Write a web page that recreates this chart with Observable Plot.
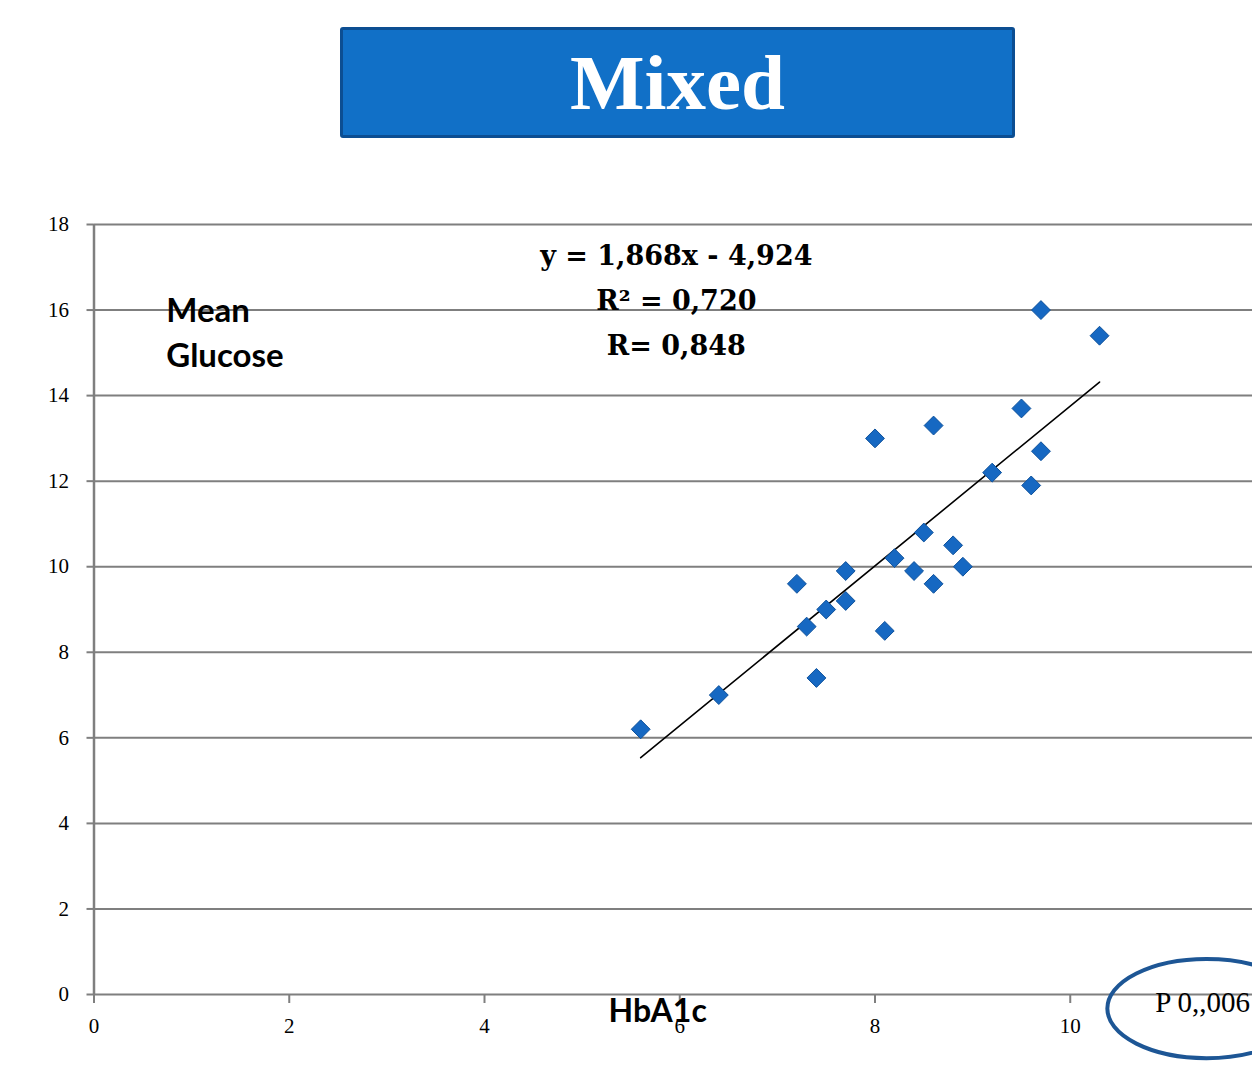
<!DOCTYPE html>
<html>
<head>
<meta charset="utf-8">
<script src="https://cdn.jsdelivr.net/npm/d3@7"></script>
<script src="https://cdn.jsdelivr.net/npm/@observablehq/plot@0.6"></script>
<style>
  html, body { margin: 0; padding: 0; background: #fff; overflow: hidden; }
  #page { position: relative; width: 1252px; height: 1078px; overflow: hidden; background: #fff; }
  #title {
    position: absolute; left: 340px; top: 27px; width: 675px; height: 111px;
    box-sizing: border-box; background: #1170c7; border: 3px solid #0c4e92; border-radius: 3px;
    text-align: center; color: #fff; font-family: "Liberation Serif", serif; font-weight: bold;
    font-size: 79px; line-height: 105px;
  }
  #chart { position: absolute; left: 0; top: 150px; }
</style>
</head>
<body>
<div id="page">
  <div id="title"></div>
  <div id="chart"></div>
</div>
<script>
// ---- data ----
const titleText = "Mixed";
const hba1c   = [5.6, 6.4, 7.2, 7.3, 7.4, 7.5, 7.7, 7.7, 8.0, 8.1, 8.2, 8.4, 8.5, 8.6, 8.6, 8.8, 8.9, 9.2, 9.5, 9.6, 9.7, 9.7, 10.3];
const glucose = [6.2, 7.0, 9.6, 8.6, 7.4, 9.0, 9.9, 9.2, 13.0, 8.5, 10.2, 9.9, 10.8, 13.3, 9.6, 10.5, 10.0, 12.2, 13.7, 11.9, 12.7, 16.0, 15.4];
const trendSlope = 1.868;
const trendIntercept = -4.924;
const equationLines = ["y = 1,868x - 4,924", "R² = 0,720", "R= 0,848"];
const yLabelLines = ["Mean", "Glucose"];
const xLabel = "HbA1c";
const pLabel = "P 0,,006";
const xTicks = [0, 2, 4, 6, 8, 10];
const yTicks = [0, 2, 4, 6, 8, 10, 12, 14, 16, 18];

document.getElementById("title").textContent = titleText;

const points = hba1c.map((x, i) => ({x, y: glucose[i]}));
const [xmin, xmax] = d3.extent(hba1c);
const trend = [xmin, xmax].map(x => ({x, y: trendSlope * x + trendIntercept}));

const gray = "#7f7f7f";
const eqFont = {fontFamily: "DejaVu Serif, serif", fontWeight: "bold", fontSize: 27, fill: "black", textAnchor: "middle", lineAnchor: "bottom"};
const sansBold = {fontFamily: "Lato, sans-serif", fontWeight: "bold", fill: "black", textAnchor: "start", lineAnchor: "bottom"};

const plot = Plot.plot({
  width: 1252,
  height: 928,
  marginTop: 74, marginBottom: 84, marginLeft: 93.5, marginRight: 0,
  x: {domain: [0, 12], range: [93.5, 1265]},
  y: {domain: [0, 18], range: [844, 74]},
  style: {fontFamily: "Liberation Serif, serif", fontSize: "21px", color: "black", background: "white", overflow: "hidden"},
  marks: [
    Plot.gridY(yTicks, {stroke: gray, strokeOpacity: 1, strokeWidth: 2}),
    Plot.ruleX([0], {y1: 0, y2: 18, stroke: gray, strokeWidth: 2.5}),
    Plot.axisY(yTicks, {tickSize: 7, tickPadding: 18, stroke: gray, strokeWidth: 2, label: null, fill: "black", fontSize: 21}),
    Plot.axisX(xTicks, {tickSize: 9, tickPadding: 15, stroke: gray, strokeWidth: 2, label: null, fill: "black", fontSize: 21}),
    Plot.line(trend, {x: "x", y: "y", stroke: "black", strokeWidth: 1.6}),
    Plot.dot(points, {x: "x", y: "y", symbol: "diamond2", r: 8.5, fill: "#1668c2", stroke: "#0f529c", strokeWidth: 1}),
    Plot.text([equationLines[0]], {...eqFont, x: 5.965, y: 17.06, text: d => d}),
    Plot.text([equationLines[1]], {...eqFont, x: 5.965, y: 15.99, text: d => d}),
    Plot.text([equationLines[2]], {...eqFont, x: 5.965, y: 14.94, text: d => d}),
    Plot.text([yLabelLines[0]], {...sansBold, fontSize: 33, x: 0.74, y: 15.73, text: d => d}),
    Plot.text([yLabelLines[1]], {...sansBold, fontSize: 33, x: 0.74, y: 14.68, text: d => d}),
    Plot.text([xLabel], {...sansBold, fontSize: 32, x: 5.27, y: -0.654, text: d => d}),
    Plot.text([pLabel], {fontFamily: "Liberation Serif, serif", fontSize: 29, fill: "black", textAnchor: "start", lineAnchor: "bottom", x: 10.87, y: -0.40, text: d => d})
  ]
});

// highlight ellipse around the p-value annotation, placed through the chart's scales
const sx = plot.scale("x"), sy = plot.scale("y");
const fx = sx.apply ? v => sx.apply(v) : d3.scaleLinear(sx.domain, sx.range);
const fy = sy.apply ? v => sy.apply(v) : d3.scaleLinear(sy.domain, sy.range);
d3.select(plot).append("ellipse")
  .attr("cx", fx(11.40)).attr("cy", fy(-0.34))
  .attr("rx", fx(11.40) - fx(10.385)).attr("ry", fy(-0.34) - fy(0.82))
  .attr("fill", "none").attr("stroke", "#1d5695").attr("stroke-width", 4);

document.getElementById("chart").appendChild(plot);
</script>
</body>
</html>
